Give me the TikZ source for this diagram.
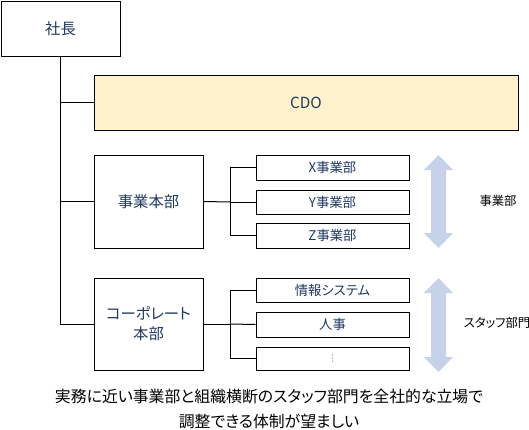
\documentclass[tikz,border=0pt]{standalone}
\usepackage{fontspec}
\setmainfont{Noto Sans CJK JP}[RawFeature=+palt]
\newfontfamily\symfont{DejaVu Sans}
\definecolor{navy}{HTML}{203864}
\definecolor{cdofill}{HTML}{FFF2CC}
\definecolor{arrowblue}{HTML}{C5D2EA}
\def\px{0.75pt}
\tikzset{
  box/.style={draw=black, line width=0.75pt, rectangle, inner sep=0pt, align=center,
    text=navy, font=\fontsize{11.5pt}{15pt}\selectfont},
  subbox/.style={box, minimum width={153*\px}, font=\fontsize{10pt}{12pt}\selectfont},
  conn/.style={draw=black, line width=0.75pt},
  bigarrow/.style={fill=arrowblue, draw=none},
  sidelabel/.style={text=black, font=\fontsize{9.25pt}{11pt}\selectfont},
}
\begin{document}
\begin{tikzpicture}[x=0.75pt, y=-0.75pt]
\useasboundingbox (0,0) rectangle (529,429);
% main boxes
\node[box, minimum width={119*\px}, minimum height={55*\px}] (pres) at (60.5,28.5) {社長};
\node[box, fill=cdofill, minimum width={424*\px}, minimum height={55*\px}] (cdo) at (306,102.5) {CDO};
\node[box, minimum width={109*\px}, minimum height={93*\px}] (biz) at (148.5,201.5) {事業本部};
\node[box, minimum width={109*\px}, minimum height={92*\px}] (corp) at (148.5,324) {コーポレート\\本部};
% sub boxes
\node[subbox, minimum height={25*\px}] (bx) at (332.5,167.5) {X事業部};
\node[subbox, minimum height={24*\px}] (by) at (332.5,202) {Y事業部};
\node[subbox, minimum height={25*\px}] (bz) at (332.5,235.5) {Z事業部};
\node[subbox, minimum height={24*\px}] (c1) at (332.5,290) {情報システム};
\node[subbox, minimum height={25*\px}] (c2) at (332.5,324.5) {人事};
\node[subbox, minimum height={23*\px}, text=gray] (c3) at (332.5,358.5) {\symfont\fontsize{7pt}{8pt}\selectfont ⋮};
% connectors
\draw[conn] (pres.south) |- (cdo.west);
\draw[conn] (pres.south) |- (biz.west);
\draw[conn] (pres.south) |- (corp.west);
\coordinate (bj) at (230,202);
\coordinate (cj) at (230,324);
\draw[conn] (biz.east) -- (bj);
\draw[conn] (bj) |- (bx.west);
\draw[conn] (bj) -- (by.west);
\draw[conn] (bj) |- (bz.west);
\draw[conn] (corp.east) -- (cj);
\draw[conn] (cj) |- (c1.west);
\draw[conn] (cj) -- (c2.west);
\draw[conn] (cj) |- (c3.west);
% double arrows
\fill[bigarrow] (438.5,155) -- (453,170) -- (446,170) -- (446,233) -- (453,233) -- (438.5,248)
  -- (424,233) -- (431,233) -- (431,170) -- (424,170) -- cycle;
\fill[bigarrow] (438.5,278) -- (453,293) -- (446,293) -- (446,357) -- (453,357) -- (438.5,372)
  -- (424,357) -- (431,357) -- (431,293) -- (424,293) -- cycle;
\node[sidelabel] (lbiz) at (498,201) {事業部};
\node[sidelabel] (lstaff) at (497,323) {スタッフ部門};
% caption
\node[align=center, text=black, font=\fontsize{11.9pt}{18.75pt}\selectfont] (cap) at (269,409)
  {実務に近い事業部と組織横断のスタッフ部門を全社的な立場で\\調整できる体制が望ましい};
\end{tikzpicture}
\end{document}
